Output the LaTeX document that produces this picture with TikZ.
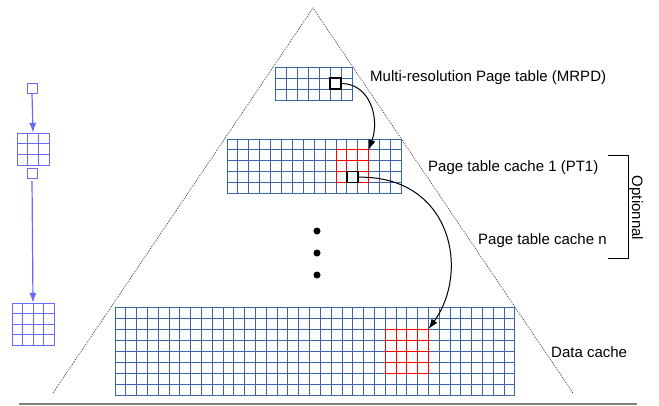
\documentclass[tikz,border=0pt]{standalone}
\usepackage{fontspec}
\setmainfont{Liberation Sans}
\usetikzlibrary{arrows.meta}
\definecolor{cacheblue}{RGB}{60,100,170}
\definecolor{levelblue}{RGB}{105,105,250}
% grid: x, y, cols, rows, cell width, cell height, style
\newcommand{\cachegrid}[7]{%
  \foreach \i in {0,...,#3} \draw[#7] ({#1+\i*#5},#2) -- ({#1+\i*#5},{#2+#4*#6});
  \foreach \j in {0,...,#4} \draw[#7] (#1,{#2+\j*#6}) -- ({#1+#3*#5},{#2+\j*#6});
}
\begin{document}
\begin{tikzpicture}[x=1pt,y=-1pt,font=\fontsize{15}{18}\selectfont,
    cell/.style={cacheblue,line width=1pt,line cap=rect},
    hit/.style={red,line width=1pt,line cap=rect},
    lvl/.style={levelblue,line width=1pt,line cap=rect},
    sel/.style={draw,line width=1.6pt,minimum size=11pt,inner sep=0pt},
    label/.style={anchor=west,inner sep=0pt},
    >={Latex[length=10pt,width=7pt]}]
  \useasboundingbox (0,0) rectangle (659,405);
  % pyramid
  \draw[black!80,line width=0.7pt,dash pattern=on 0.9pt off 1.1pt] (53,393) -- (313,8) -- (573,393);
  \draw[gray,line width=2pt] (19,403.5) -- (637,403.5);
  % MRPD
  \cachegrid{275}{67}{7}{3}{11}{11}{cell}
  \node[sel] (mrpdsel) at (335.5,83.5) {};
  \node[label] (mrpd) at (370,78) {Multi-resolution Page table (MRPD)};
  % PT1
  \cachegrid{227}{139}{16}{5}{10.9}{10.9}{cell}
  \cachegrid{336}{149.9}{3}{3}{10.9}{10.9}{hit}
  \coordinate (ptblock) at (368.7,149.9);
  \node[sel] (ptsel) at (352.35,177.15) {};
  \node[label] (pt1) at (428,168) {Page table cache 1 (PT1)};
  \node[label] (ptn) at (478,241) {Page table cache n};
  % dots
  \fill (317,231) circle (3.5pt);
  \fill (317,253) circle (3.5pt);
  \fill (317,275) circle (3.5pt);
  % data cache
  \cachegrid{115}{307}{37}{8}{10.81}{11}{cell}
  \cachegrid{385.25}{329}{4}{4}{10.81}{11}{hit}
  \coordinate (datablock) at (428.5,329);
  \node[label] (data) at (551,352) {Data cache};
  % links
  \draw[->,line width=1pt] (mrpdsel.east) .. controls (370,84) and (380,118) .. (ptblock);
  \draw[->,line width=1pt] (ptsel.east) .. controls (452,176) and (470,272) .. (datablock);
  % optional levels
  \draw[line width=1pt] (608,155) -| (628,258) -- (608,258);
  \node[rotate=-90] (optional) at (636,208) {Optionnal};
  % levels on the left
  \node[draw=levelblue,line width=1pt,minimum size=10pt,inner sep=0pt] (lvl0) at (32,88) {};
  \cachegrid{17}{133}{3}{3}{10.67}{10.67}{lvl}
  \node[minimum size=32pt,inner sep=0pt] (lvl1) at (33,149) {};
  \node[draw=levelblue,line width=1pt,minimum size=10pt,inner sep=0pt] (lvl1sel) at (32,173.5) {};
  \cachegrid{12}{303}{4}{4}{10.5}{10.5}{lvl}
  \node[minimum size=42pt,inner sep=0pt] (lvl2) at (33,324) {};
  \draw[->,levelblue,line width=1.2pt] (lvl0.south) -- (lvl1.north);
  \draw[->,levelblue,line width=1.2pt,shorten <=2pt] (lvl1sel.south) -- (lvl2.north);
\end{tikzpicture}
\end{document}
